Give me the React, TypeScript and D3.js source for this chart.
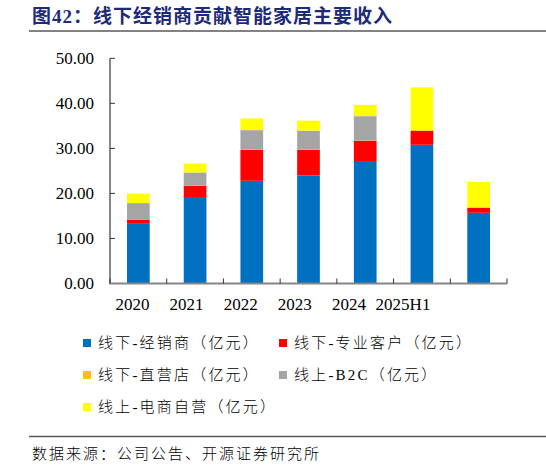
import { useEffect, useRef } from "react";
import * as d3 from "d3";

// ─── Data (亿元) ─────────────────────────────────────────────────────────────

const CATEGORIES = ["2020", "2021", "2022", "2023", "2024", "2025H1", ""];
const TICK_LABELS = ["2020", "2021", "2022", "2023", "2024", "2025H1"];

const SERIES_NAMES = [
  "线下-经销商（亿元）",
  "线下-专业客户（亿元）",
  "线下-直营店（亿元）",
  "线上-B2C（亿元）",
  "线上-电商自营（亿元）",
];

const DEALER = [13.4, 19.2, 22.8, 24.0, 27.0, 30.8, 15.7];
const PRO_CLIENT = [0.8, 2.5, 6.9, 5.7, 4.7, 3.1, 1.1];
const DIRECT_STORE = [0.05, 0.05, 0.05, 0.05, 0.05, 0.15, 0.15];
const ONLINE_B2C = [3.6, 2.9, 4.3, 4.2, 5.4, 0.0, 0.0];
const ONLINE_SELF = [2.1, 2.0, 2.6, 2.2, 2.5, 9.5, 5.6];

const Y_TICKS = [0, 10, 20, 30, 40, 50];

const COLORS = ["#0070C0", "#FF0000", "#FFC000", "#A5A5A5", "#FFFF00"];

const TITLE = "图42：线下经销商贡献智能家居主要收入";
const SOURCE = "数据来源：公司公告、开源证券研究所";

const SERIF = "'Liberation Serif', 'Times New Roman', 'Noto Sans CJK SC', serif";
const TITLE_COLOR = "#1C2A7A";

export default function App() {
  const svgRef = useRef<SVGSVGElement>(null);

  useEffect(() => {
    if (!svgRef.current) return;
    const W = 546,
      H = 467;
    const svg = d3.select(svgRef.current);
    svg.selectAll("*").remove();
    svg.attr("viewBox", `0 0 ${W} ${H}`);

    // title + rule
    svg
      .append("text")
      .attr("x", 32)
      .attr("y", 23)
      .attr("font-size", 19)
      .attr("font-weight", 700)
      .attr("letter-spacing", 1)
      .attr("fill", TITLE_COLOR)
      .attr("font-family", SERIF)
      .text(TITLE);
    svg
      .append("line")
      .attr("x1", 29)
      .attr("x2", W)
      .attr("y1", 31)
      .attr("y2", 31)
      .attr("stroke", "#595959")
      .attr("stroke-width", 1.3);

    const rows = CATEGORIES.map((c, i) => ({
      cat: c,
      s0: DEALER[i],
      s1: PRO_CLIENT[i],
      s2: DIRECT_STORE[i],
      s3: ONLINE_B2C[i],
      s4: ONLINE_SELF[i],
    }));
    const keys = ["s0", "s1", "s2", "s3", "s4"];
    const stacked = d3.stack<any>().keys(keys)(rows);

    const x = d3
      .scaleBand()
      .domain(CATEGORIES.map((c, i) => c + "#" + i))
      .range([110, 507])
      .paddingInner(0.6)
      .paddingOuter(0.3);
    const y = d3.scaleLinear().domain([0, 50]).range([283.5, 58.3]);
    const xLabel = d3.scalePoint().domain(TICK_LABELS).range([132.5, 403]);

    const keyOf = (i: number) => CATEGORIES[i] + "#" + i;

    // bars
    stacked.forEach((layer, si) => {
      svg
        .append("g")
        .selectAll("rect")
        .data(layer)
        .enter()
        .append("rect")
        .attr("x", (_, i) => x(keyOf(i))!)
        .attr("width", x.bandwidth())
        .attr("y", (d) => y(d[1]))
        .attr("height", (d) => Math.max(0, y(d[0]) - y(d[1])))
        .attr("fill", COLORS[si]);
    });

    // y axis
    const axisColor = "#868686";
    svg
      .append("line")
      .attr("x1", 110)
      .attr("x2", 110)
      .attr("y1", y(50))
      .attr("y2", y(0))
      .attr("stroke", axisColor)
      .attr("stroke-width", 2);
    Y_TICKS.forEach((t) => {
      svg
        .append("line")
        .attr("x1", 110)
        .attr("x2", 115)
        .attr("y1", y(t))
        .attr("y2", y(t))
        .attr("stroke", "#333")
        .attr("stroke-width", 1);
      svg
        .append("text")
        .attr("x", 94)
        .attr("y", y(t))
        .attr("dy", "0.34em")
        .attr("text-anchor", "end")
        .attr("font-size", 17)
        .attr("font-family", SERIF)
        .attr("fill", "#000")
        .text(d3.format(".2f")(t));
    });

    // x axis
    svg
      .append("line")
      .attr("x1", 109)
      .attr("x2", 507)
      .attr("y1", y(0))
      .attr("y2", y(0))
      .attr("stroke", axisColor)
      .attr("stroke-width", 2);
    const step = x.step();
    d3.range(CATEGORIES.length + 1).forEach((i) => {
      const bx = 110 + i * step;
      svg
        .append("line")
        .attr("x1", bx)
        .attr("x2", bx)
        .attr("y1", y(0))
        .attr("y2", y(0) - 5)
        .attr("stroke", "#333")
        .attr("stroke-width", 1);
    });
    TICK_LABELS.forEach((lab) => {
      svg
        .append("text")
        .attr("x", xLabel(lab)!)
        .attr("y", 310)
        .attr("text-anchor", "middle")
        .attr("font-size", 17)
        .attr("font-family", SERIF)
        .attr("fill", "#000")
        .text(lab);
    });

    // legend
    const legendPos = [
      [83, 343],
      [279, 343],
      [83, 375],
      [279, 375],
      [83, 407],
    ];
    SERIES_NAMES.forEach((name, i) => {
      const [lx, ly] = legendPos[i];
      svg
        .append("rect")
        .attr("x", lx)
        .attr("y", ly - 4)
        .attr("width", 8)
        .attr("height", 8)
        .attr("fill", COLORS[i]);
      svg
        .append("text")
        .attr("x", lx + 15)
        .attr("y", ly)
        .attr("dy", "0.36em")
        .attr("font-size", 15)
        .attr("font-weight", 300)
        .attr("letter-spacing", 2.2)
        .attr("font-family", SERIF)
        .attr("fill", "#000")
        .text(name);
    });

    // footer
    svg
      .append("line")
      .attr("x1", 29)
      .attr("x2", W)
      .attr("y1", 436.5)
      .attr("y2", 436.5)
      .attr("stroke", "#595959")
      .attr("stroke-width", 1.3);
    svg
      .append("text")
      .attr("x", 32)
      .attr("y", 459)
      .attr("font-size", 15)
      .attr("font-weight", 300)
      .attr("letter-spacing", 2)
      .attr("font-family", SERIF)
      .attr("fill", "#000")
      .text(SOURCE);
  }, []);

  return (
    <svg
      ref={svgRef}
      width={546}
      height={467}
      style={{ position: "absolute", left: 0, top: 0, background: "#fff" }}
    />
  );
}
